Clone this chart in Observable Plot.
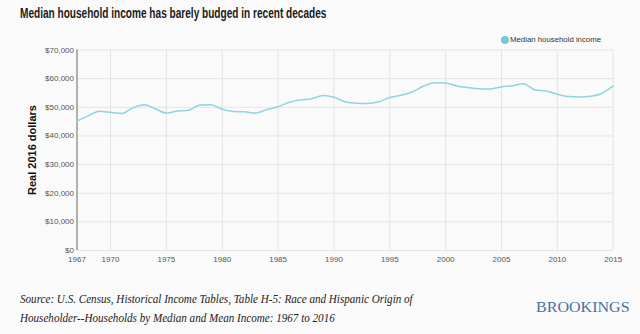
<!DOCTYPE html>
<html><head><meta charset="utf-8">
<script src="https://cdn.jsdelivr.net/npm/d3@7"></script>
<script src="https://cdn.jsdelivr.net/npm/@observablehq/plot@0.6"></script>
<style>
html,body{margin:0;padding:0}
body{background:#fafafa;width:640px;height:334px;position:relative;overflow:hidden;font-family:"Liberation Sans",Arial,sans-serif}
#title{position:absolute;left:20px;top:5px;font-weight:bold;font-size:14px;font-family:"Liberation Sans",Arial,sans-serif;color:#1a1a1a;white-space:nowrap;transform-origin:0 50%;transform:scaleX(0.72)}
#chart{position:absolute;left:0;top:40px}
#ylab{position:absolute;left:32px;top:150px;transform:translate(-50%,-50%) rotate(-90deg);font-weight:bold;font-size:11px;color:#111;white-space:nowrap}
#legend{position:absolute;left:501px;top:35px;font-size:7.8px;color:#333;white-space:nowrap;display:flex;align-items:center}
#legend span.dot{display:inline-block;width:8px;height:8px;border-radius:50%;background:#72c8dc;margin-right:1px}
#caption{position:absolute;left:20px;top:289.5px;font-family:"Liberation Serif",serif;font-style:italic;font-size:11.5px;line-height:19px;color:#222;white-space:nowrap;transform-origin:0 0;transform:scaleX(0.965)}
#brand{position:absolute;left:536px;top:299px;font-family:"Liberation Serif",serif;font-size:15px;color:#44729f;white-space:nowrap;transform-origin:0 0;transform:scaleX(1.07)}
</style></head>
<body>
<div id="title">Median household income has barely budged in recent decades</div>
<div id="chart"></div>
<div id="ylab">Real 2016 dollars</div>
<div id="legend"><span class="dot"></span>Median household income</div>
<div id="caption">Source: U.S. Census, Historical Income Tables, Table H-5: Race and Hispanic Origin of<br>Householder--Households by Median and Mean Income: 1967 to 2016</div>
<div id="brand">BROOKINGS</div>
<script>
const years = [1967,1968,1969,1970,1971,1972,1973,1974,1975,1976,1977,1978,1979,1980,1981,1982,1983,1984,1985,1986,1987,1988,1989,1990,1991,1992,1993,1994,1995,1996,1997,1998,1999,2000,2001,2002,2003,2004,2005,2006,2007,2008,2009,2010,2011,2012,2013,2014,2015];
const income = [45200,47000,48600,48250,47800,49800,50900,49500,48000,48700,48950,50800,50900,49300,48500,48400,48000,49200,50200,51750,52550,53000,54100,53500,51900,51400,51300,51900,53400,54200,55350,57350,58600,58500,57450,56900,56500,56400,57100,57550,58250,56050,55700,54550,53750,53600,53850,54900,57450];
const xTicks = [1967,1970,1975,1980,1985,1990,1995,2000,2005,2010,2015];
const yTicks = [0,10000,20000,30000,40000,50000,60000,70000];
const seriesName = "Median household income";

const data = years.map((y,i)=>({year:y, value:income[i]}));

const chart = Plot.plot({
  width:640, height:235,
  marginLeft:76.5, marginRight:27.3, marginTop:9.5, marginBottom:25,
  style:{background:"transparent", fontFamily:"Liberation Sans, Arial, sans-serif", fontSize:"8px", color:"#555"},
  x:{domain:[1967,2015], ticks:xTicks, tickFormat:d=>String(d), label:null, tickSize:0, tickPadding:6},
  y:{domain:[0,70000], ticks:yTicks, tickFormat:d=>"$"+d3.format(",")(d), label:null, tickSize:0, tickPadding:3},
  marks:[
    Plot.gridX(xTicks.slice(1), {stroke:"#e4e4e4", strokeOpacity:1}),
    Plot.gridY(yTicks, {stroke:"#e4e4e4", strokeOpacity:1}),
    Plot.ruleX([1967], {y1:0, y2:70000, stroke:"#999", strokeWidth:1.5}),
    Plot.lineY(data, {x:"year", y:"value", stroke:"#8fd4e0", strokeWidth:1.5, curve:"monotone-x"})
  ]
});
document.getElementById("chart").appendChild(chart);
</script>
</body></html>
